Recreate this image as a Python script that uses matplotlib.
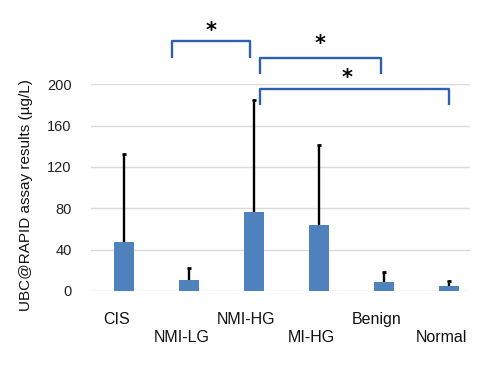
import matplotlib
matplotlib.use("Agg")
import matplotlib.pyplot as plt
import numpy as np

categories = ["CIS", "NMI-LG", "NMI-HG", "MI-HG", "Benign", "Normal"]
means = [47, 11, 76, 64, 9, 4.5]
upper_err = [86, 11.5, 108.5, 77, 9, 5]
yticks = [0, 40, 80, 120, 160, 200]

# significance brackets: (x_left, x_right, y_top, y_leg_bottom, star_x, star_y)
brackets = [
    (0.73, 1.94, 241.5, 225.4, 1.34, 251.5),
    (2.09, 3.95, 225.4, 210.3, 3.02, 238.6),
    (2.09, 5.00, 195.5, 179.7, 3.43, 205.8),
]

plt.rcParams['font.family'] = ['Liberation Sans', 'DejaVu Sans']

fig = plt.figure(figsize=(4.97, 3.71), dpi=100)
ax = fig.add_axes([91/497, 1-291/371, 379/497, (291-84.3)/371])

x = np.arange(len(categories))
means_a = np.array(means)
err_a = np.array(upper_err)
ax.bar(x, means_a, width=0.31, color="#4f81bd", zorder=3)
ax.errorbar(x, means_a, yerr=[np.zeros(len(means)), err_a], fmt='none',
            ecolor='black', elinewidth=1.7, capsize=0, zorder=4)
ax.plot(x, means_a + err_a, linestyle='none', marker='_', markersize=3.5,
        markeredgewidth=2.0, color='black', zorder=4)

ax.set_ylim(0, 200)
ax.set_xlim(-0.51, 5.32)
ax.set_yticks(yticks)
ax.set_yticklabels([str(v) for v in yticks], fontsize=10.5, color="#222222")
ax.grid(axis='y', color="#d9d9d9", linewidth=1.0, zorder=0)
for s in ax.spines.values():
    s.set_visible(False)
ax.tick_params(axis='y', length=0, pad=14)
ax.tick_params(axis='x', length=0)

ax.set_xticks(x - 0.12)
ax.set_xticklabels(categories, fontsize=11.5, color="#111111")
for i, t in enumerate(ax.xaxis.get_major_ticks()):
    t.set_pad(15 if i % 2 == 0 else 28)

ax.set_ylabel("UBC@RAPID assay results (µg/L)", fontsize=11, color="#111111")
ax.yaxis.set_label_coords(-0.153, 0.464)

for (xl, xr, yt, yb, sx, sy) in brackets:
    ax.plot([xl, xl, xr, xr], [yb, yt, yt, yb], color="#2e5fb0", linewidth=1.7,
            solid_joinstyle='round', solid_capstyle='butt', clip_on=False, zorder=5)
    ax.text(sx, sy, "*", fontsize=15, ha='center', va='center', color='black',
            family='DejaVu Sans', fontweight='bold', clip_on=False)

fig.savefig("out.png", dpi=100)
